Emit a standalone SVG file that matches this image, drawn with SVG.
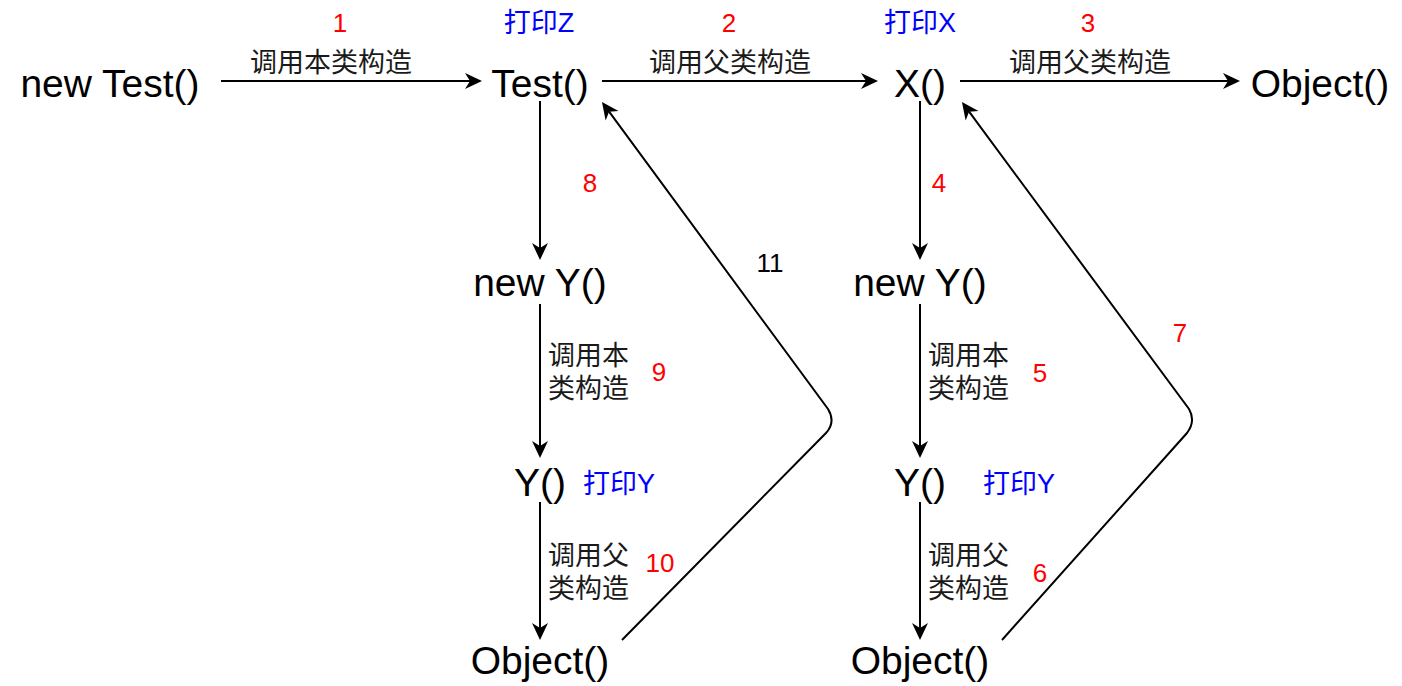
<svg xmlns="http://www.w3.org/2000/svg" width="1402" height="686" viewBox="0 0 1402 686">
<style>
.node{font-family:"Liberation Sans","Noto Sans CJK SC",sans-serif;font-size:39px;fill:#000;text-anchor:middle}
.lbl{font-family:"Liberation Sans","Noto Sans CJK SC",sans-serif;font-size:27px;fill:#1a1a1a}
.c{text-anchor:middle}
.num{font-family:"Liberation Sans",sans-serif;font-size:26px;fill:#ff0000;text-anchor:middle}
.blue{font-family:"Liberation Sans","Noto Sans CJK SC",sans-serif;font-size:27px;fill:#0000ff}
.edge{fill:none;stroke:#000;stroke-width:2;marker-end:url(#arr)}
</style>
<defs>
<marker id="arr" markerUnits="userSpaceOnUse" markerWidth="18" markerHeight="17" refX="5" refY="8" orient="auto" viewBox="0 0 18 16">
<path d="M0,0 L17,8 L0,16 L5,8 Z" fill="#000"/>
</marker>
</defs>
<rect width="1402" height="686" fill="#fff"/>
<g id="connectors">
<line class="edge" x1="221" y1="81" x2="470" y2="81"/>
<line class="edge" x1="602" y1="81" x2="866" y2="81"/>
<line class="edge" x1="960" y1="81" x2="1228" y2="81"/>
<line class="edge" x1="540" y1="101" x2="540" y2="248"/>
<line class="edge" x1="540" y1="304" x2="540" y2="446"/>
<line class="edge" x1="540" y1="502" x2="540" y2="628"/>
<line class="edge" x1="920" y1="101" x2="920" y2="248"/>
<line class="edge" x1="920" y1="304" x2="920" y2="446"/>
<line class="edge" x1="920" y1="502" x2="920" y2="628"/>
<path class="edge" d="M622,640 L826,433 Q836,422 828,409 L609.1,111.7"/>
<path class="edge" d="M1002,640 L1187,433 Q1196,421 1189,409 L969.1,111.7"/>
</g>
<g id="edge-labels">
<text class="lbl c" x="331" y="72">调用本类构造</text>
<text class="lbl c" x="730" y="72">调用父类构造</text>
<text class="lbl c" x="1090" y="72">调用父类构造</text>
<text class="lbl" x="548" y="365">调用本</text>
<text class="lbl" x="548" y="398">类构造</text>
<text class="lbl" x="548" y="565">调用父</text>
<text class="lbl" x="548" y="598">类构造</text>
<text class="lbl" x="928" y="365">调用本</text>
<text class="lbl" x="928" y="398">类构造</text>
<text class="lbl" x="928" y="565">调用父</text>
<text class="lbl" x="928" y="598">类构造</text>
<text class="num" x="340" y="32">1</text>
<text class="num" x="729" y="32">2</text>
<text class="num" x="1088" y="32">3</text>
<text class="num" x="939" y="192">4</text>
<text class="num" x="1040" y="382">5</text>
<text class="num" x="1040" y="582">6</text>
<text class="num" x="1180" y="342">7</text>
<text class="num" x="590" y="192">8</text>
<text class="num" x="659" y="381">9</text>
<text class="num" x="660" y="572">10</text>
<text class="num" x="770" y="272" style="fill:#000">11</text>
</g>
<g id="node-newTest"><text class="node" x="110" y="97">new Test()</text></g>
<g id="node-Test"><text class="node" x="540" y="97">Test()</text><text class="blue" x="539" y="32" text-anchor="middle">打印Z</text></g>
<g id="node-X"><text class="node" x="920" y="97">X()</text><text class="blue" x="920" y="32" text-anchor="middle">打印X</text></g>
<g id="node-Object-top"><text class="node" x="1320" y="97">Object()</text></g>
<g id="node-newY-1"><text class="node" x="540" y="296">new Y()</text></g>
<g id="node-Y-1"><text class="node" x="540" y="496">Y()</text><text class="blue" x="583" y="493">打印Y</text></g>
<g id="node-Object-1"><text class="node" x="540" y="674">Object()</text></g>
<g id="node-newY-2"><text class="node" x="920" y="296">new Y()</text></g>
<g id="node-Y-2"><text class="node" x="920" y="496">Y()</text><text class="blue" x="983" y="493">打印Y</text></g>
<g id="node-Object-2"><text class="node" x="920" y="674">Object()</text></g>
</svg>
